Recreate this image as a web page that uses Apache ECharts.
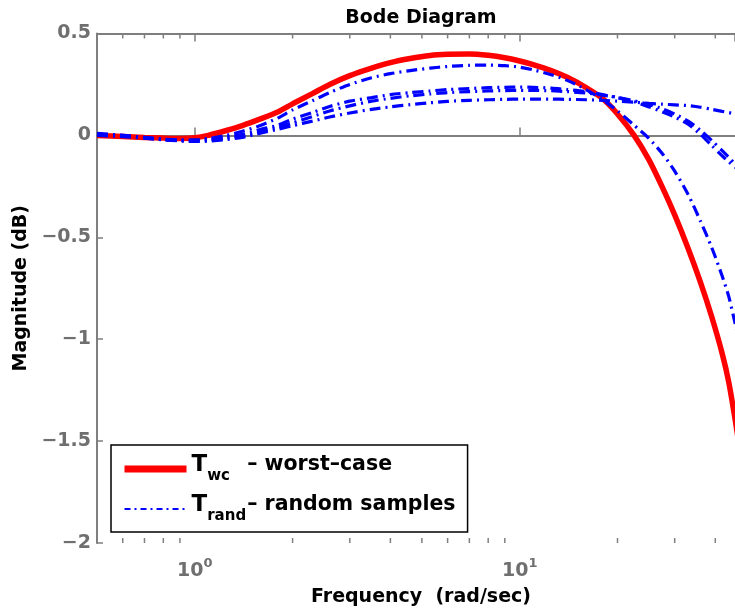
<!DOCTYPE html>
<html>
<head>
<meta charset="utf-8">
<script src="https://cdn.jsdelivr.net/npm/echarts@6/dist/echarts.min.js"></script>
<style>
html,body{margin:0;padding:0;background:#fff;}
#chart{width:735px;height:612px;}
</style>
</head>
<body>
<div id="chart"></div>
<script>
// Frequency points (rad/sec)
const freq = [0.5,0.6,0.7,0.8,0.9,1.0,1.1,1.25,1.4,1.6,1.8,2.0,2.3,2.6,3.0,3.5,4.0,4.6,5.3,6.0,7.0,8.0,9.0,10,11,12.5,14,16,18,20,22.5,25,27.5,30,33,36,39,42,44,46,48,50];
// Worst-case magnitude (dB)
const tWorstCase = [0.0,-0.005,-0.01,-0.013,-0.015,-0.012,0.0,0.024,0.048,0.082,0.115,0.155,0.205,0.25,0.293,0.33,0.357,0.377,0.392,0.398,0.40,0.393,0.381,0.365,0.347,0.318,0.285,0.235,0.18,0.105,0.0,-0.12,-0.255,-0.39,-0.555,-0.72,-0.89,-1.07,-1.21,-1.39,-1.58,-1.77];
// Random samples magnitude (dB)
const tRand1 = [0.005,0.0,-0.01,-0.018,-0.022,-0.022,-0.015,0.0,0.02,0.05,0.085,0.125,0.17,0.21,0.25,0.283,0.303,0.318,0.33,0.338,0.344,0.345,0.342,0.335,0.322,0.298,0.27,0.225,0.175,0.12,0.05,-0.015,-0.09,-0.175,-0.29,-0.42,-0.55,-0.69,-0.79,-0.92,-1.05,-1.18];
const tRand2 = [0.01,0.0,-0.01,-0.02,-0.025,-0.025,-0.02,-0.008,0.005,0.03,0.05,0.08,0.112,0.142,0.168,0.185,0.2,0.21,0.218,0.225,0.23,0.234,0.236,0.237,0.236,0.232,0.225,0.215,0.2,0.185,0.165,0.14,0.115,0.09,0.055,0.005,-0.05,-0.1,-0.13,-0.155,-0.175,-0.2];
const tRand3 = [0.005,-0.003,-0.012,-0.02,-0.026,-0.027,-0.023,-0.013,-0.003,0.02,0.04,0.062,0.092,0.12,0.145,0.168,0.182,0.194,0.203,0.21,0.215,0.218,0.22,0.221,0.221,0.219,0.215,0.208,0.198,0.187,0.17,0.152,0.13,0.105,0.07,0.025,-0.025,-0.075,-0.107,-0.14,-0.165,-0.19];
const tRand4 = [0.0,-0.006,-0.014,-0.022,-0.027,-0.03,-0.028,-0.02,-0.01,0.012,0.03,0.048,0.07,0.09,0.11,0.128,0.14,0.151,0.16,0.167,0.172,0.175,0.177,0.178,0.178,0.178,0.177,0.175,0.172,0.168,0.163,0.157,0.153,0.15,0.146,0.138,0.128,0.118,0.112,0.105,0.098,0.09];
// Minor tick frequencies for the log axis
const minorTicks = [0.6,0.7,0.8,0.9,2,3,4,5,6,7,8,9,20,30,40];
// Y tick labels
const yTickValues = [-2,-1.5,-1,-0.5,0,0.5];
const yTickLabels = ['\u22122','\u22121.5','\u22121','\u22120.5','0','0.5'];

const FONT = 'DejaVu Sans';
const GRAY = '#6f6f6f';
const AXIS = '#7f7f7f';
const pairs = arr => freq.map((f, i) => [f, arr[i]]);
const dashDot = [11, 5, 2, 5];

const chart = echarts.init(document.getElementById('chart'), null, {renderer: 'canvas'});

const blueSeries = [tRand1, tRand2, tRand3, tRand4].map(a => ({
  name: 'T_rand', type: 'line', data: pairs(a), symbol: 'none',
  smooth: 0.25,
  lineStyle: {color: '#0000ff', width: 3.2, type: dashDot, cap: 'butt'},
  itemStyle: {color: '#0000ff'}, z: 3
}));

const option = {
  animation: false,
  backgroundColor: '#ffffff',
  grid: {left: 97, top: 33.5, right: 0, bottom: 69, show: false},
  legend: {
    orient: 'vertical', left: 111, top: 445, width: 352,
    padding: [9, 12, 8, 10],
    borderColor: '#000', borderWidth: 1.5,
    itemWidth: 62, itemHeight: 14, itemGap: 10,
    itemStyle: {opacity: 0},
    data: [
      {name: 'T_wc', lineStyle: {width: 7, color: '#ff0000'}, itemStyle: {opacity: 0}},
      {name: 'T_rand', lineStyle: {width: 2, color: '#0000ff', type: [6, 4, 2, 4]}, itemStyle: {opacity: 0}}
    ],
    formatter: function (name) {
      return name === 'T_wc'
        ? '{t|T}{s|wc}{m|\u2013 worst\u2013case}'
        : '{t|T}{s|rand}{m|\u2013 random samples}';
    },
    textStyle: {
      color: '#000', fontFamily: FONT, fontWeight: 'bold',
      rich: {
        t: {fontSize: 23, fontFamily: FONT, fontWeight: 'bold', color: '#000', lineHeight: 30, verticalAlign: 'top'},
        s: {fontSize: 15, fontFamily: FONT, fontWeight: 'bold', color: '#000', width: 40, lineHeight: 30, verticalAlign: 'bottom', padding: [12,0,0,0]},
        m: {fontSize: 20.5, fontFamily: FONT, fontWeight: 'bold', color: '#000', lineHeight: 30, verticalAlign: 'top'}
      }
    }
  },
  xAxis: [
    {
      type: 'log', logBase: 10, min: 0.5, max: 46, position: 'bottom',
      name: 'Frequency  (rad/sec)', nameLocation: 'middle', nameGap: 45,
      nameTextStyle: {fontFamily: FONT, fontWeight: 'bold', fontSize: 19, color: '#000', padding: [0, 0, 0, 10]},
      axisLine: {show: true, lineStyle: {color: AXIS, width: 2}},
      axisTick: {show: true, inside: true, length: 8, lineStyle: {color: AXIS, width: 1.5}},
      splitLine: {show: false}, minorTick: {show: false},
      axisLabel: {
        margin: 14, showMinLabel: false, showMaxLabel: false,
        formatter: v => '{b|10}{s|' + Math.round(Math.log10(v)) + '}',
        rich: {
          b: {fontSize: 19, fontFamily: FONT, fontWeight: 'bold', color: GRAY, lineHeight: 24, verticalAlign: 'bottom', padding: [8,0,0,0]},
          s: {fontSize: 13, fontFamily: FONT, fontWeight: 'bold', color: GRAY, lineHeight: 14, verticalAlign: 'top'}
        }
      }
    },
    {
      type: 'log', logBase: 10, min: 0.5, max: 46, position: 'top',
      name: 'Bode Diagram', nameLocation: 'middle', nameGap: 6,
      nameTextStyle: {fontFamily: FONT, fontWeight: 'bold', fontSize: 19, color: '#000', verticalAlign: 'bottom', padding: [0, 0, 0, 10]},
      axisLine: {show: true, lineStyle: {color: AXIS, width: 2}},
      axisTick: {show: true, inside: true, length: 8, lineStyle: {color: AXIS, width: 1.5}},
      axisLabel: {show: false}, splitLine: {show: false}
    }
  ],
  yAxis: {
    type: 'value', min: -2, max: 0.5, interval: 0.5,
    name: 'Magnitude (dB)', nameLocation: 'middle', nameGap: 60,
    nameTextStyle: {fontFamily: FONT, fontWeight: 'bold', fontSize: 19, color: '#000'},
    axisLine: {show: true, lineStyle: {color: AXIS, width: 2}},
    axisTick: {show: true, inside: true, length: 6, lineStyle: {color: AXIS, width: 1.5}},
    splitLine: {show: false},
    axisLabel: {
      margin: 6, fontFamily: FONT, fontWeight: 'bold', fontSize: 19, color: GRAY,
      formatter: v => {
        const i = yTickValues.findIndex(t => Math.abs(t - v) < 1e-9);
        return i >= 0 ? yTickLabels[i] : '';
      }
    }
  },
  series: [
    {
      name: 'T_wc', type: 'line', data: pairs(tWorstCase), symbol: 'none',
      smooth: 0.25,
      lineStyle: {color: '#ff0000', width: 5.5}, itemStyle: {color: '#ff0000'}, z: 2
    },
    ...blueSeries,
    {
      name: 'minorTicks', type: 'custom', silent: true, clip: false, z: 5,
      data: minorTicks.map(v => [v, -2]),
      renderItem: function (params, api) {
        const v = api.value(0);
        const pb = api.coord([v, -2]);
        const pt = api.coord([v, 0.5]);
        const st = {stroke: AXIS, lineWidth: 1.5};
        return {
          type: 'group',
          children: [
            {type: 'line', shape: {x1: pb[0], y1: pb[1], x2: pb[0], y2: pb[1] - 5}, style: st},
            {type: 'line', shape: {x1: pt[0], y1: pt[1], x2: pt[0], y2: pt[1] + 5}, style: st}
          ]
        };
      }
    }
  ]
};

chart.setOption(option);
</script>
</body>
</html>
